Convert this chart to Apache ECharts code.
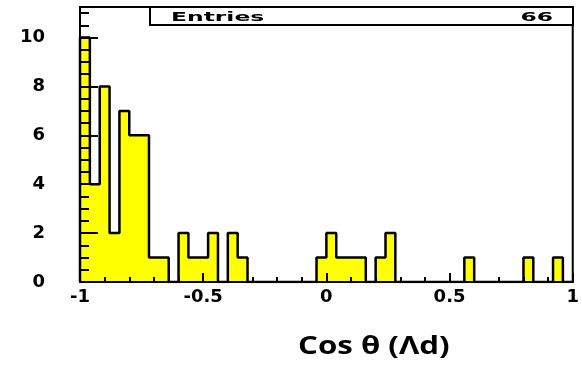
<!DOCTYPE html>
<html><head><meta charset="utf-8">
<script src="https://cdn.jsdelivr.net/npm/echarts@6/dist/echarts.min.js"></script>
<style>html,body{margin:0;padding:0;background:#fff}#c{width:582px;height:365px}</style>
</head><body><div id="c"></div>
<script>
// ---- data ----
const binMin = -1;
const binWidth = 0.04;
const counts = [10,4,8,2,7,6,6,1,1,0,2,1,1,2,0,2,1, 0,0,0,0,0,0,0, 1,2,1,1,1, 0, 1,2, 0,0,0,0,0,0,0, 1, 0,0,0,0,0, 1, 0,0, 1, 0];
const xTickValues = [-1, -0.5, 0, 0.5, 1];
const xTickLabels = ['-1', '-0.5', '0', '0.5', '1'];
const yTickValues = [0, 2, 4, 6, 8, 10];
const yTickLabels = ['0', '2', '4', '6', '8', '10'];
const statLabel = 'Entries';
const statValue = '66';
const xTitle = 'Cos θ (Λd)';

// ---- build ----
const bins = counts.map((c, i) => [binMin + i * binWidth, binMin + (i + 1) * binWidth, c]);
const outline = [[binMin, 0]].concat(bins.map(b => [b[0], b[2]])).concat([[bins[bins.length - 1][1], 0]]);

function lab(values, labels) {
  return v => {
    for (let i = 0; i < values.length; i++) if (Math.abs(values[i] - v) < 1e-6) return labels[i];
    return '';
  };
}
const black = '#000';
const chart = echarts.init(document.getElementById('c'), null, {renderer: 'canvas'});
chart.setOption({
  animation: false,
  backgroundColor: '#fff',
  grid: {left: 80, right: 9, top: 7, bottom: 83, show: true, borderColor: black, borderWidth: 2, backgroundColor: 'transparent'},
  xAxis: [{
    type: 'value', min: -1, max: 1, interval: 0.5, z: 10,
    axisLine: {show: true, onZero: false, lineStyle: {color: black, width: 2}},
    axisTick: {show: true, inside: true, length: 9, lineStyle: {color: black, width: 2}},
    minorTick: {show: true, splitNumber: 5, length: 5, lineStyle: {color: black, width: 2}},
    splitLine: {show: false}, minorSplitLine: {show: false},
    axisLabel: {formatter: lab(xTickValues, xTickLabels), margin: 6, fontSize: 18, fontWeight: 'bold', fontFamily: 'DejaVu Sans', color: black}
  }],
  yAxis: [{
    type: 'value', min: 0, max: 11.25, interval: 2, z: 10, position: 'left',
    axisLine: {show: true, onZero: false, lineStyle: {color: black, width: 2}},
    axisTick: {show: true, inside: true, length: 18, lineStyle: {color: black, width: 2}},
    splitLine: {show: false},
    axisLabel: {formatter: lab(yTickValues, yTickLabels), showMaxLabel: false, margin: 35, fontSize: 18, fontWeight: 'bold', fontFamily: 'DejaVu Sans', color: black}
  }, {
    type: 'value', min: 0, max: 11.25, interval: 0.5, z: 10, position: 'left', offset: 0,
    axisLine: {show: false, onZero: false},
    axisTick: {show: true, inside: true, length: 9, lineStyle: {color: black, width: 2}},
    splitLine: {show: false},
    axisLabel: {show: false}
  }],
  series: [{
    type: 'custom',
    xAxisIndex: 0, yAxisIndex: 0,
    encode: {x: [0, 1], y: 2},
    data: bins,
    z: 2,
    renderItem: (params, api) => {
      const p0 = api.coord([api.value(0), api.value(2)]);
      const p1 = api.coord([api.value(1), 0]);
      return {type: 'rect', shape: {x: p0[0], y: p0[1], width: p1[0] - p0[0] + 0.6, height: p1[1] - p0[1]}, style: {fill: '#ffff00', stroke: null}};
    }
  }, {
    type: 'line', step: 'end', data: outline, symbol: 'none', z: 3,
    xAxisIndex: 0, yAxisIndex: 0,
    lineStyle: {color: black, width: 2.5}
  }],
  graphic: [
    {type: 'rect', x: 150, y: 7, z: 20, shape: {x: 0, y: 0, width: 423, height: 18}, style: {fill: '#fff', stroke: black, lineWidth: 2}},
    {type: 'text', x: 171, y: 18, z: 21, scaleX: 1.8, style: {text: statLabel, x: 0, y: 0, align: 'left', verticalAlign: 'middle', fontSize: 13, fontWeight: 'bold', fontFamily: 'DejaVu Sans', fill: black}},
    {type: 'text', x: 553, y: 18, z: 21, scaleX: 1.8, style: {text: statValue, x: 0, y: 0, align: 'right', verticalAlign: 'middle', fontSize: 13, fontWeight: 'bold', fontFamily: 'DejaVu Sans', fill: black}},
    {type: 'text', x: 298, y: 347, z: 21, scaleX: 1.25, style: {text: xTitle, x: 0, y: 0, align: 'left', verticalAlign: 'middle', fontSize: 25, fontWeight: 'bold', fontFamily: 'Open Sans', fill: black}}
  ]
});
</script>
</body></html>
